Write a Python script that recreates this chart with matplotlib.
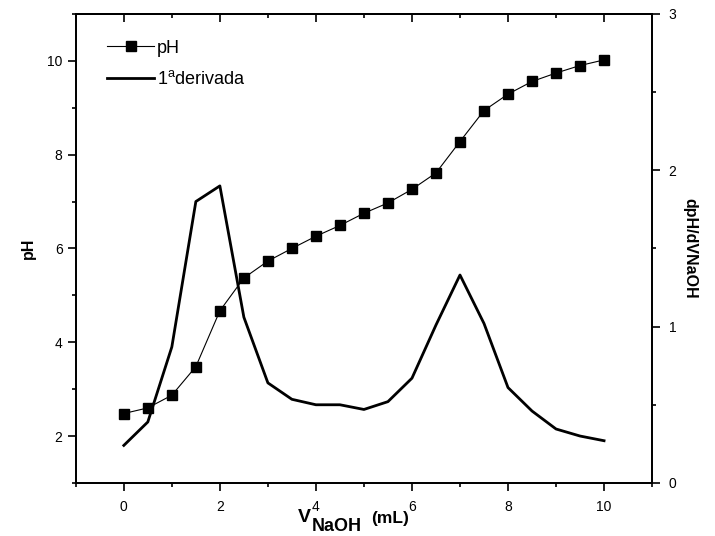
"""Titration curve: pH and first derivative vs. NaOH volume."""

import matplotlib

matplotlib.use("Agg")
from matplotlib import pyplot as plt
from matplotlib.ticker import MultipleLocator

plt.rcParams["font.family"] = ["Liberation Sans", "DejaVu Sans"]
plt.rcParams["mathtext.fontset"] = "custom"
plt.rcParams["mathtext.rm"] = "Liberation Sans"
plt.rcParams["mathtext.bf"] = "Liberation Sans:bold"

# data
volume = [0.0, 0.5, 1.0, 1.5, 2.0, 2.5, 3.0, 3.5, 4.0, 4.5, 5.0,
          5.5, 6.0, 6.5, 7.0, 7.5, 8.0, 8.5, 9.0, 9.5, 10.0]
ph = [2.48, 2.60, 2.87, 3.48, 4.67, 5.37, 5.73, 6.00, 6.26, 6.49, 6.75,
      6.97, 7.26, 7.61, 8.28, 8.94, 9.29, 9.56, 9.74, 9.90, 10.02]
derivative = [0.24, 0.39, 0.87, 1.80, 1.90, 1.06, 0.64, 0.535, 0.50, 0.50, 0.47,
              0.52, 0.67, 1.01, 1.33, 1.02, 0.61, 0.46, 0.345, 0.30, 0.27]

x_ticks = [0, 2, 4, 6, 8, 10]
ph_ticks = [2, 4, 6, 8, 10]
deriv_ticks = [0, 1, 2, 3]

W, H = 715, 536


def fig_xy(px: float, py: float) -> tuple[float, float]:
    # pixel position (from top-left) to figure fraction
    return px / W, 1 - py / H


def main() -> None:
    fig = plt.figure(figsize=(W / 100, H / 100), dpi=100)
    ax = fig.add_axes([0.106, 0.099, 0.806, 0.875])
    ax2 = ax.twinx()

    (ph_line,) = ax.plot(volume, ph, color="black", linewidth=0.8, marker="s",
                         markersize=7.5, markerfacecolor="black", markeredgecolor="black",
                         label="pH")
    (der_line,) = ax2.plot(volume, derivative, color="black", linewidth=2.0,
                           label=r"1$^{\mathrm{a}}$derivada")

    ax.set_xlim(-1, 11)
    ax.set_ylim(1, 11)
    ax2.set_ylim(0, 3)

    ax.set_xticks(x_ticks)
    ax.xaxis.set_minor_locator(MultipleLocator(1))
    ax.set_yticks(ph_ticks)
    ax.yaxis.set_minor_locator(MultipleLocator(1))
    ax2.set_yticks(deriv_ticks)
    ax2.yaxis.set_minor_locator(MultipleLocator(0.5))

    for a in (ax, ax2):
        a.tick_params(which="major", direction="out", length=6, width=1.2, labelsize=10)
        a.tick_params(which="minor", direction="out", length=3, width=1.2)
        for spine in a.spines.values():
            spine.set_linewidth(1.3)
    ax.tick_params(axis="x", pad=6)
    ax2.tick_params(axis="y", pad=6)

    top = ax.secondary_xaxis("top")
    top.set_xticks(x_ticks)
    top.xaxis.set_minor_locator(MultipleLocator(1))
    top.tick_params(which="major", direction="in", length=6, width=1.2, labeltop=False)
    top.tick_params(which="minor", direction="in", length=3, width=1.2)
    top.spines["top"].set_linewidth(1.3)

    ax.set_ylabel("pH", fontsize=11.5, fontweight="bold", labelpad=8)
    ax2.set_ylabel("dpH/dVNaOH", fontsize=11.5, fontweight="bold", rotation=-90, labelpad=15)

    # x label built from pieces: V, subscript NaOH, (mL)
    fig.text(*fig_xy(298, 522), "V", fontsize=14, fontweight="bold", ha="left", va="baseline")
    fig.text(*fig_xy(312, 531), "NaOH", fontsize=13, fontweight="bold", ha="left", va="baseline")
    fig.text(*fig_xy(371, 523), "(mL)", fontsize=12.5, fontweight="bold", ha="left", va="baseline")

    ax.legend(handles=[ph_line, der_line], loc="upper left", bbox_to_anchor=(0.036, 0.968),
              frameon=False, fontsize=13, handlelength=2.6, handletextpad=0.15,
              labelspacing=0.75, borderaxespad=0.2)

    fig.savefig("out.png", dpi=100)
    plt.close(fig)


if __name__ == "__main__":
    main()
